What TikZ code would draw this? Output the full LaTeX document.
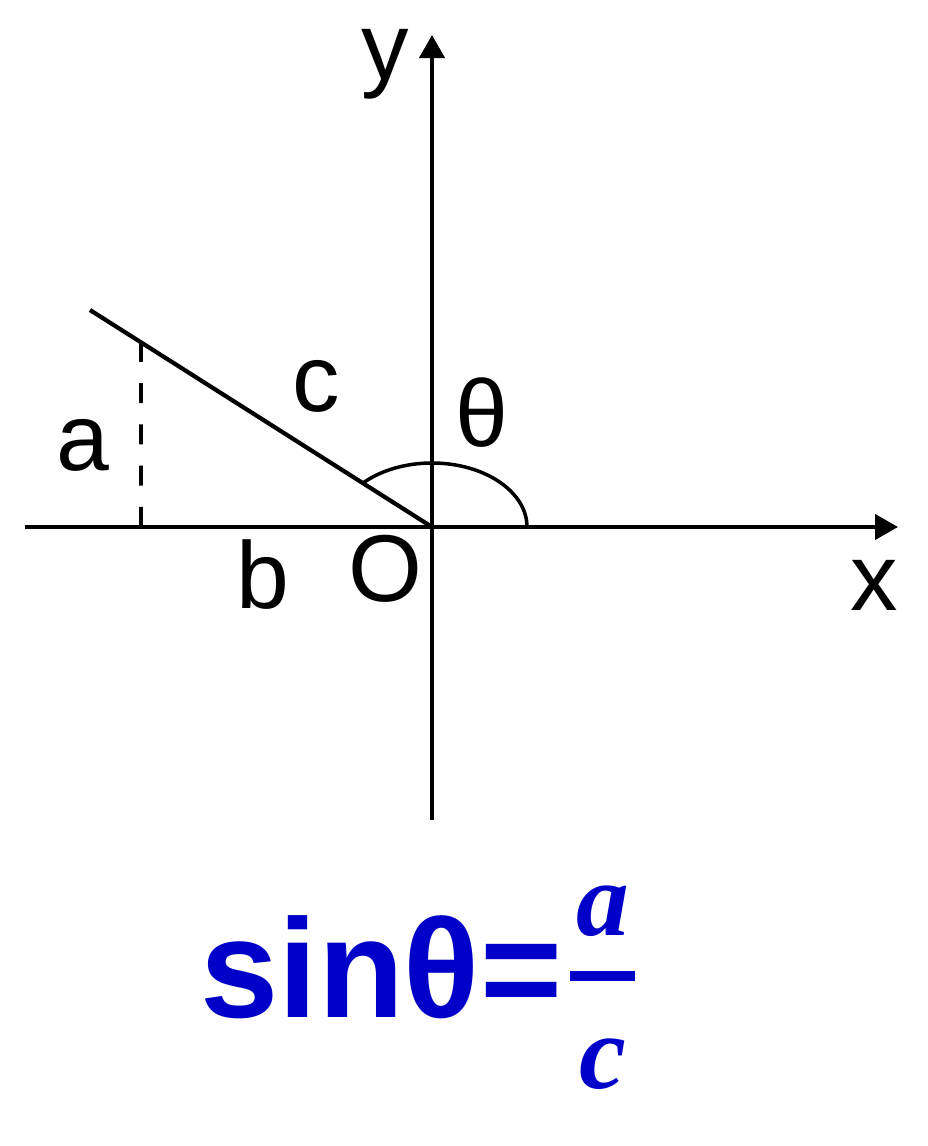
\documentclass[tikz,border=0pt]{standalone}
\usepackage{amsmath,amssymb}
\usepackage{fontspec}
\setmainfont{Liberation Sans}
\newfontfamily\fracfont{Liberation Serif}
\usepackage{tikz}
\usetikzlibrary{arrows.meta,calc}
\definecolor{formulablue}{RGB}{0,0,200}

\begin{document}
\begin{tikzpicture}[x=0.01cm,y=0.01cm,
        axis/.style={line width=1.2pt, -{Triangle[length=2.3mm,width=2.5mm]}},
        lbl/.style={anchor=base, inner sep=0pt, font=\fontsize{27}{27}\selectfont},
        formula/.style={inner sep=0pt, text=formulablue}]
        \useasboundingbox (0,0) rectangle (927,-1146);
        % axes
        \coordinate (O) at (432,-527);
        \coordinate (xl) at (25,-527);
        \coordinate (xr) at (898,-527);
        \coordinate (yb) at (432,-820);
        \coordinate (yt) at (432,-35);
        \draw[axis] (xl) -- (xr);
        \draw[axis] (yb) -- (yt);
        % the side c and its foot
        \coordinate (A) at (90,-310);
        \coordinate (foot) at (141,-527);
        \draw[line width=1.2pt] (A) -- (O);
        \draw[line width=1.1pt, dash pattern=on 0.2cm off 0.2125cm] (foot) -- ($(A)!0.149!(O)$);
        % angle theta
        \draw[line width=1pt] (527,-527) arc[start angle=0, end angle=136, x radius=95, y radius=64];
        % labels
        \node[lbl] (ylab) at (385,-80) {y};
        \node[lbl] (xlab) at (874,-610) {x};
        \node[lbl] (alab) at (83,-470) {a};
        \node[lbl] (blab) at (263,-608) {b};
        \node[lbl] (clab) at (316,-411) {c};
        \node[lbl] (tlab) at (482,-446) {θ};
        \node[lbl] (olab) at (385,-601) {O};
        % formula
        \node[formula, anchor=base west, font=\fontsize{40}{40}\selectfont\bfseries] (sin) at (200,-1017) {sinθ=};
        \node[formula, anchor=base, font=\fontsize{30}{30}\selectfont\fracfont\bfseries\itshape] (num) at (603,-935) {a};
        \node[formula, anchor=base, font=\fontsize{30}{30}\selectfont\fracfont\bfseries\itshape] (den) at (603,-1088) {c};
        \draw[formulablue, line width=2.6pt] (570,-976) -- (635,-976);
    \end{tikzpicture}
\end{document}
